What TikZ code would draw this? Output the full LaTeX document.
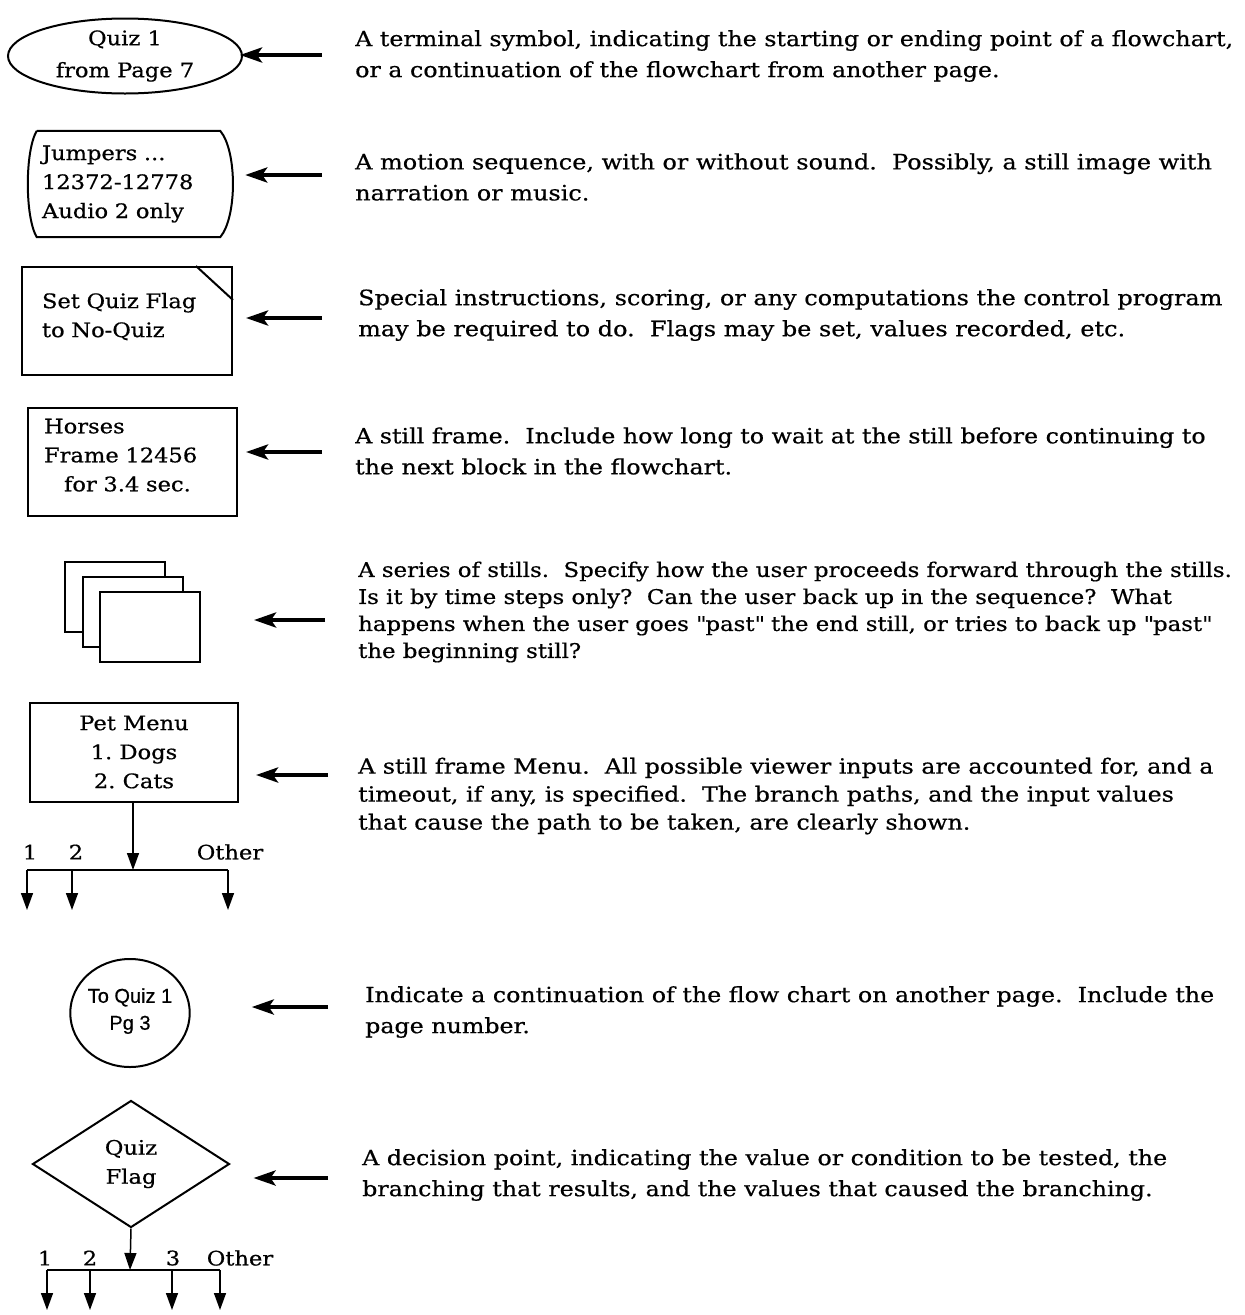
\documentclass[tikz,border=0pt]{standalone}
\usepackage{fontspec}
\setmainfont[FakeStretch=1.13,FakeBold=0.6]{DejaVu Serif}
\newfontfamily\labelsans[FakeBold=0.6]{Liberation Sans}
\usetikzlibrary{arrows.meta,shapes.geometric}
\frenchspacing

\begin{document}
\begin{tikzpicture}[x=1pt,y=-1pt,
    symbol/.style={draw,line width=2pt},
    boxtext/.style={font=\fontsize{20}{29}\selectfont},
    desc/.style={anchor=west,align=left,inner sep=0pt,font=\fontsize{21}{31}\selectfont},
    pointer/.style={line width=4pt,-{Stealth[length=22pt,width=15pt,inset=5pt]}},
    branch/.style={line width=1.5pt,-{Triangle[length=17pt,width=12pt]}},
    bar/.style={line width=1.5pt}]
    \useasboundingbox (0,0) rectangle (1245,1315);

    \node[symbol,ellipse,minimum width=234pt,minimum height=75pt,inner sep=0pt,align=center,boxtext,font=\fontsize{20}{32}\selectfont] (terminal) at (125,56) {Quiz 1\\from Page 7};
    \node[boxtext,text width=173pt,inner xsep=5pt,minimum height=106pt,align=left] (motion) at (128.5,184) {Jumpers ...\\12372-12778\\Audio 2 only};
    \draw[symbol] (motion.north west) -- (motion.north east)
        .. controls +(17,20) and +(17,-20) .. (motion.south east)
        -- (motion.south west)
        .. controls +(-12,-20) and +(-12,20) .. (motion.north west);
    \node[symbol,boxtext,text width=170pt,inner xsep=20pt,minimum height=108pt,align=left] (compute) at (127,321) {Set Quiz Flag\\to No-Quiz\\[-17pt]\mbox{}};
    \draw[symbol] ([xshift=-37pt]compute.north east) -- ([yshift=-34pt]compute.north east);
    \node[symbol,boxtext,text width=177pt,inner xsep=16pt,minimum height=108pt,align=left] (still) at (132.5,462) {Horses\\Frame 12456\\\hspace*{20pt}for 3.4 sec.\\[-15pt]\mbox{}};
    \foreach \i in {0,1,2}
      \node[symbol,fill=white,minimum width=100pt,minimum height=70pt] (stills\i) at (115+17.5*\i,597+15*\i) {};
    \node[symbol,boxtext,minimum width=208pt,minimum height=99pt,align=center] (menu) at (134,752) {Pet Menu\\1. Dogs\\2. Cats};
    \node[symbol,ellipse,minimum width=114pt,minimum height=108pt,inner sep=0pt,align=center,font=\labelsans\fontsize{20}{27}\selectfont] (offpage) at (130,1013) {To Quiz 1\\Pg 3\\[-19pt]\mbox{}};
    \node[symbol,diamond,minimum width=197pt,minimum height=127pt,aspect=1.55,inner sep=0pt,boxtext,align=center] (decision) at (131,1164) {Quiz\\Flag};

    \coordinate (menu fork) at (133,870);
    \draw[branch] (menu.south -| menu fork) -- (menu fork);
    \draw[bar] (27,870) -- (228,870);
    \foreach \x in {27,72,228}
      \draw[branch] (\x,870) -- (\x,910);
    \node[boxtext] (menu one) at (30,852) {1};
    \node[boxtext] (menu two) at (76,852) {2};
    \node[boxtext] (menu other) at (230,852) {Other};

    \coordinate (flag fork) at (130,1270);
    \draw[branch] (decision.south) -- (flag fork);
    \draw[bar] (47,1270) -- (220,1270);
    \foreach \x in {47,90,172,220}
      \draw[branch] (\x,1270) -- (\x,1310);
    \node[boxtext] (flag one) at (45,1258) {1};
    \node[boxtext] (flag two) at (90,1258) {2};
    \node[boxtext] (flag three) at (173,1258) {3};
    \node[boxtext] (flag other) at (240,1258) {Other};

    \coordinate (tail1) at (322,55);
    \coordinate (tail2) at (322,175);
    \coordinate (tail3) at (322,318);
    \coordinate (tail4) at (322,452);
    \coordinate (tail5) at (325,620);
    \coordinate (tail6) at (328,775);
    \coordinate (tail7) at (328,1007);
    \coordinate (tail8) at (328,1178);
    \draw[pointer,shorten >=-3pt] (tail1) -- (tail1 -| terminal.east);
    \draw[pointer,shorten >=25pt] (tail2) -- (tail2 -| motion.east);
    \draw[pointer,shorten >=13pt] (tail3) -- (tail3 -| compute.east);
    \draw[pointer,shorten >=8pt] (tail4) -- (tail4 -| still.east);
    \draw[pointer,shorten >=53pt] (tail5) -- (tail5 -| stills2.east);
    \draw[pointer,shorten >=17pt] (tail6) -- (tail6 -| menu.east);
    \draw[pointer,shorten >=61pt] (tail7) -- (tail7 -| offpage.east);
    \draw[pointer,shorten >=23pt] (tail8) -- (tail8 -| decision.east);

    \node[desc] (desc1) at (355,56) {A terminal symbol, indicating the starting or ending point of a flowchart,\\or a continuation of the flowchart from another page.};
    \node[desc,font=\fontsize{21.2}{31}\selectfont] (desc2) at (355,177) {A motion sequence, with or without sound.~ Possibly, a still image with\\narration or music.};
    \node[desc,font=\fontsize{21.2}{31}\selectfont] (desc3) at (358,315) {Special instructions, scoring, or any computations the control program\\may be required to do.~ Flags may be set, values recorded, etc.};
    \node[desc] (desc4) at (355,451) {A still frame.~ Include how long to wait at the still before continuing to\\the next block in the flowchart.};
    \node[desc,font=\fontsize{20.2}{27}\selectfont] (desc5) at (358,612) {A series of stills.~ Specify how the user proceeds forward through the stills.\\Is it by time steps only?~ Can the user back up in the sequence?~ What\\happens when the user goes \textquotedbl past\textquotedbl{} the end still, or tries to back up \textquotedbl past\textquotedbl\\the beginning still?};
    \node[desc,font=\fontsize{21}{28}\selectfont] (desc6) at (358,796) {A still frame Menu.~ All possible viewer inputs are accounted for, and a\\timeout, if any, is specified.~ The branch paths, and the input values\\that cause the path to be taken, are clearly shown.};
    \node[desc] (desc7) at (365,1012) {Indicate a continuation of the flow chart on another page.~ Include the\\page number.};
    \node[desc] (desc8) at (362,1175) {A decision point, indicating the value or condition to be tested, the\\branching that results, and the values that caused the branching.};
  \end{tikzpicture}
\end{document}
